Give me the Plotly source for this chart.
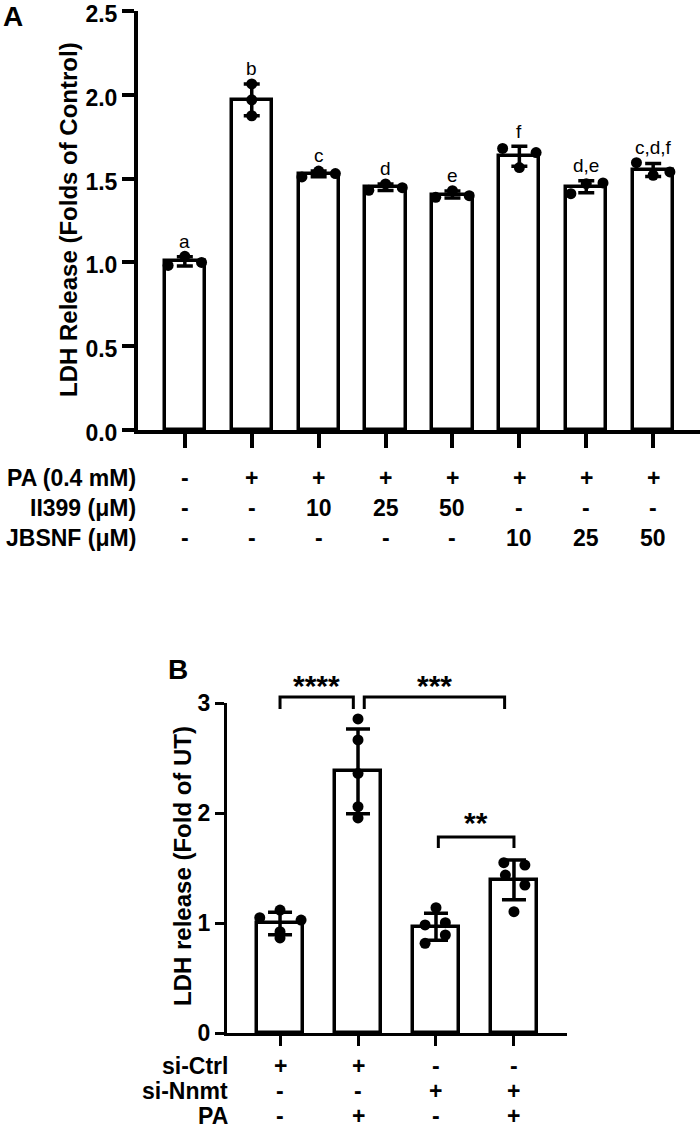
import numpy as np
import plotly.graph_objects as go

# ---------------- Panel A data ----------------
A_letters = ["a", "b", "c", "d", "e", "f", "d,e", "c,d,f"]
A_points = [
    [0.982, 1.036, 1.000],
    [2.065, 1.970, 1.875],
    [1.510, 1.545, 1.530],
    [1.430, 1.468, 1.446],
    [1.388, 1.428, 1.398],
    [1.680, 1.566, 1.655],
    [1.410, 1.470, 1.474],
    [1.595, 1.520, 1.540],
]
A_row_labels = ["PA (0.4 mM)", "II399 (μM)", "JBSNF (μM)"]
A_PA = ["-", "+", "+", "+", "+", "+", "+", "+"]
A_II399 = ["-", "-", "10", "25", "50", "-", "-", "-"]
A_JBSNF = ["-", "-", "-", "-", "-", "10", "25", "50"]
A_yticks = [0.0, 0.5, 1.0, 1.5, 2.0, 2.5]
A_yticktext = ["0.0", "0.5", "1.0", "1.5", "2.0", "2.5"]

# ---------------- Panel B data ----------------
B_points = [
    [1.048, 1.118, 1.027, 0.921, 0.864],
    [2.855, 2.664, 2.360, 2.057, 1.955],
    [1.139, 0.982, 1.003, 0.891, 0.815],
    [1.548, 1.527, 1.436, 1.345, 1.103],
]
B_row_labels = ["si-Ctrl", "si-Nnmt", "PA"]
B_siCtrl = ["+", "+", "-", "-"]
B_siNnmt = ["-", "-", "+", "+"]
B_PA = ["-", "+", "-", "+"]
B_yticks = [0, 1, 2, 3]
B_comparisons = [(0, 1, "****"), (1, 3, "***"), (2, 3, "**")]

# ---------------- style / layout constants ----------------
W, H = 700, 1132
FONT = "Arial, Liberation Sans, sans-serif"
A_jitter = [[-0.25, 0, 0.25], [0, 0, 0], [-0.25, 0, 0.25], [-0.25, 0, 0.25],
            [-0.25, 0, 0.25], [-0.25, 0, 0.25], [-0.23, 0, 0.25], [-0.25, 0, 0.25]]
B_jitter = [[-0.26, 0, 0.27, 0, 0], [0, 0, 0, 0, 0],
            [0, -0.14, 0.12, 0.12, -0.14], [-0.13, 0.14, -0.11, 0.14, 0]]
# bracket insets (x0 offset, x1 offset) and heights (leg bottom, top) in data units
B_bracket_geom = [(0.0, -0.06, 2.945, 3.055), (0.08, -0.12, 2.945, 3.055), (0.03, 0.0, 1.682, 1.782)]
B_star_y = [3.19, 3.19, 1.94]


def py(p):
    return 1 - p / H


def pxx(p):
    return p / W


fig = go.Figure()

# ---- Panel A ----
xA = list(range(len(A_points)))
meanA = [float(np.mean(p)) for p in A_points]
sdA = [float(np.std(p, ddof=1)) for p in A_points]
fig.add_trace(go.Bar(
    x=xA, y=meanA, width=0.6, xaxis="x", yaxis="y",
    marker=dict(color="white", line=dict(color="black", width=3.5)),
    error_y=dict(type="data", array=sdA, visible=True, color="black", thickness=3.5, width=8),
    showlegend=False, hoverinfo="skip"))
dx, dy = [], []
for i, pts in enumerate(A_points):
    for k, v in enumerate(pts):
        dx.append(i + A_jitter[i][k])
        dy.append(v)
fig.add_trace(go.Scatter(x=dx, y=dy, mode="markers", xaxis="x", yaxis="y",
                         marker=dict(color="black", size=11), showlegend=False, cliponaxis=False))

# ---- Panel B ----
xB = list(range(len(B_points)))
meanB = [float(np.mean(p)) for p in B_points]
sdB = [float(np.std(p, ddof=1)) for p in B_points]
fig.add_trace(go.Bar(
    x=xB, y=meanB, width=0.6, xaxis="x2", yaxis="y2",
    marker=dict(color="white", line=dict(color="black", width=3.5)),
    error_y=dict(type="data", array=sdB, visible=True, color="black", thickness=3.5, width=12),
    showlegend=False, hoverinfo="skip"))
dx, dy = [], []
for i, pts in enumerate(B_points):
    for k, v in enumerate(pts):
        dx.append(i + B_jitter[i][k])
        dy.append(v)
fig.add_trace(go.Scatter(x=dx, y=dy, mode="markers", xaxis="x2", yaxis="y2",
                         marker=dict(color="black", size=11), showlegend=False, cliponaxis=False))

# brackets on helper axis y3 (same scale as y2, taller domain so not clipped)
for (i, j, _), (o0, o1, ylo, yhi) in zip(B_comparisons, B_bracket_geom):
    x0, x1 = i + o0, j + o1
    fig.add_trace(go.Scatter(x=[x0, x0, x1, x1], y=[ylo, yhi, yhi, ylo], mode="lines",
                             xaxis="x2", yaxis="y3", line=dict(color="black", width=3),
                             showlegend=False, hoverinfo="skip"))

annotations = []
# letters over panel A bars
for i, pts in enumerate(A_points):
    top = max(max(pts), meanA[i] + sdA[i])
    annotations.append(dict(x=i, y=top, xref="x", yref="y", text=A_letters[i], showarrow=False,
                            yanchor="middle", yshift=15, font=dict(family=FONT, size=19, color="black")))
# stars
for (i, j, s), (o0, o1, ylo, yhi), sy in zip(B_comparisons, B_bracket_geom, B_star_y):
    annotations.append(dict(x=(i + o0 + j + o1) / 2, y=sy, xref="x2", yref="y3", text="<b>%s</b>" % s,
                            showarrow=False, yanchor="middle", yshift=-3,
                            font=dict(family=FONT, size=30, color="black")))

# panel A table
for r, (lab, row) in enumerate(zip(A_row_labels, [A_PA, A_II399, A_JBSNF])):
    yy = py(478 + 30 * r)
    annotations.append(dict(x=pxx(138), y=yy, xref="paper", yref="paper", text="<b>%s</b>" % lab,
                            showarrow=False, xanchor="right", yanchor="middle",
                            font=dict(family=FONT, size=23, color="black")))
    for i, t in enumerate(row):
        annotations.append(dict(x=i, y=yy, xref="x", yref="paper", text="<b>%s</b>" % t,
                                showarrow=False, xanchor="center", yanchor="middle",
                                font=dict(family=FONT, size=23, color="black")))
# panel B table
for r, (lab, row) in enumerate(zip(B_row_labels, [B_siCtrl, B_siNnmt, B_PA])):
    yy = py(1066 + 25 * r)
    annotations.append(dict(x=pxx(230), y=yy, xref="paper", yref="paper", text="<b>%s</b>" % lab,
                            showarrow=False, xanchor="right", yanchor="middle",
                            font=dict(family=FONT, size=23, color="black")))
    for i, t in enumerate(row):
        annotations.append(dict(x=i, y=yy, xref="x2", yref="paper", text="<b>%s</b>" % t,
                                showarrow=False, xanchor="center", yanchor="middle",
                                font=dict(family=FONT, size=23, color="black")))

# y titles and panel letters
annotations.append(dict(x=pxx(68), y=py(220), xref="paper", yref="paper", textangle=-90,
                        text="<b>LDH Release (Folds of Control)</b>", showarrow=False,
                        xanchor="center", yanchor="middle", font=dict(family=FONT, size=24, color="black")))
annotations.append(dict(x=pxx(182), y=py(866), xref="paper", yref="paper", textangle=-90,
                        text="<b>LDH release (Fold of UT)</b>", showarrow=False,
                        xanchor="center", yanchor="middle", font=dict(family=FONT, size=24, color="black")))
annotations.append(dict(x=pxx(13), y=py(17), xref="paper", yref="paper", text="<b>A</b>", showarrow=False,
                        xanchor="center", yanchor="middle", font=dict(family=FONT, size=28, color="black")))
annotations.append(dict(x=pxx(178), y=py(669), xref="paper", yref="paper", text="<b>B</b>", showarrow=False,
                        xanchor="center", yanchor="middle", font=dict(family=FONT, size=28, color="black")))

yA_dom = [py(430), py(11)]
yB_dom = [py(1033), py(703)]
y3_top = py(675)
y3_range_top = 3 * (y3_top - yB_dom[0]) / (yB_dom[1] - yB_dom[0])

tickfont = dict(family=FONT, size=23, color="black", weight="bold")
fig.update_layout(
    width=W, height=H, margin=dict(l=0, r=0, t=0, b=0, autoexpand=False),
    paper_bgcolor="white", plot_bgcolor="rgba(0,0,0,0)", showlegend=False,
    bargap=0,
    xaxis=dict(domain=[pxx(138), 1.0], range=[-0.7, 7.7], anchor="y", showline=True, linecolor="black",
               linewidth=4, ticks="outside", tickvals=xA, ticklen=14, tickwidth=4, tickcolor="black",
               showticklabels=False, showgrid=False, zeroline=False, fixedrange=True, automargin=False),
    yaxis=dict(domain=yA_dom, range=[0, 2.5], anchor="x", showline=True, linecolor="black", linewidth=4,
               ticks="outside", tickvals=A_yticks, ticktext=A_yticktext, ticklen=12, tickwidth=4,
               tickcolor="black", tickfont=tickfont, showgrid=False, zeroline=False, fixedrange=True,
               automargin=False, ticklabeloverflow="allow", ticklabelshift=3),
    xaxis2=dict(domain=[pxx(227), pxx(567)], range=[-0.68, 3.68], anchor="y2", showline=True,
                linecolor="black", linewidth=3, ticks="outside", tickvals=xB, ticklen=10, tickwidth=3,
                tickcolor="black", showticklabels=False, showgrid=False, zeroline=False, fixedrange=True,
                automargin=False),
    yaxis2=dict(domain=yB_dom, range=[0, 3], anchor="x2", showline=True, linecolor="black", linewidth=3,
                ticks="outside", tickvals=B_yticks, ticklen=9, tickwidth=3, tickcolor="black",
                tickfont=tickfont, showgrid=False, zeroline=False, fixedrange=True, automargin=False,
                ticklabeloverflow="allow"),
    yaxis3=dict(domain=[yB_dom[0], y3_top], range=[0, y3_range_top], anchor="x2", visible=False,
                fixedrange=True, automargin=False),
    annotations=annotations,
)

fig.write_html("out.html", config={"displayModeBar": False},
               post_script="document.body.style.margin='0';document.body.style.overflow='hidden';")
